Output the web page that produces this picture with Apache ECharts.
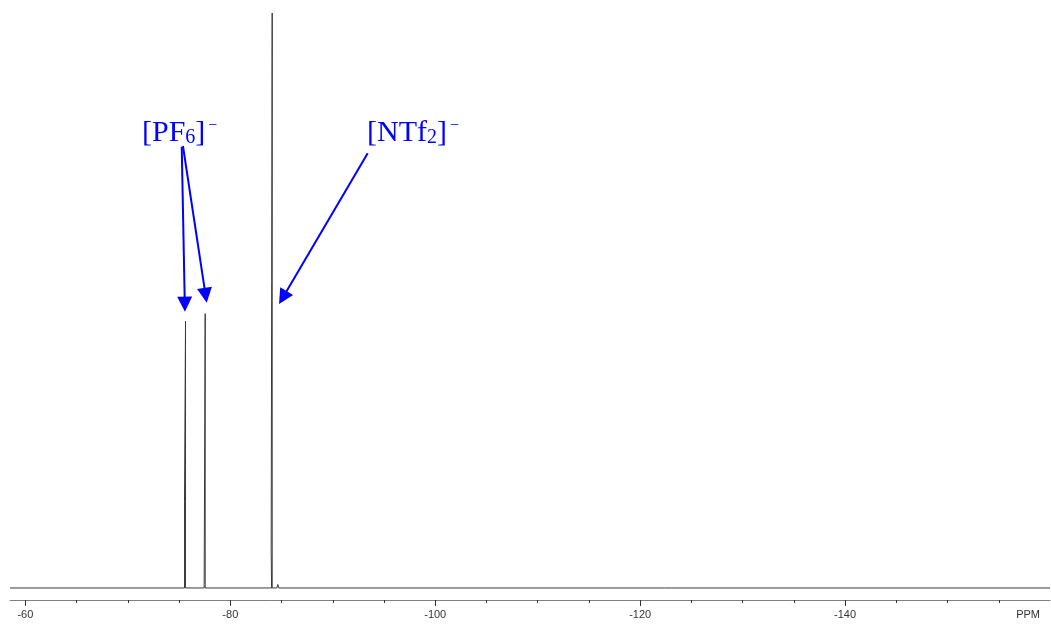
<!DOCTYPE html>
<html>
<head>
<meta charset="utf-8">
<script src="https://cdn.jsdelivr.net/npm/echarts@6/dist/echarts.min.js"></script>
<style>html,body{margin:0;padding:0;background:#fff}#c{width:1051px;height:627px}</style>
</head>
<body>
<div id="c"></div>
<script>
// Chemical shift range (ppm), axis runs right-to-left
const axisMin = -160;
const axisMax = -58.5;
const tickInterval = 20;
const minorStep = 5;
const majorTicks = [-140, -120, -100, -80, -60];

// Peaks: position (ppm), height (relative intensity), height of broad base part
const peakPpm      = [-75.63, -77.55, -84.09];
const peakHeight   = [46.4,   47.7,   100];
const peakBase     = [15.1,   0.6,    6.6];

// tiny satellite bumps near the baseline
const bumpPpm    = [-83.93, -84.64];
const bumpHeight = [0.3,    0.6];

// Annotation labels and arrows (data coordinates: ppm, intensity)
const labelTexts = ['{m|[PF}{s|6}{m|]}{p|−}', '{m|[NTf}{s|2}{m|]}{p|−}'];
const labelPos   = [[-71.38, 79.1], [-93.34, 79.1]];
const arrowFrom  = [[-75.26, 76.75], [-75.38, 76.87], [-93.41, 75.6]];
const arrowTo    = [[-75.56, 49.36], [-77.59, 50.9],  [-85.13, 50.5]];

// minor tick positions (every 5 ppm, not on major ticks)
const minorTicks = [];
for (let v = axisMin + minorStep; v <= axisMax; v += minorStep) {
  if (v % tickInterval !== 0) minorTicks.push(v);
}

// build spectrum trace
const marks = [];
peakPpm.forEach((c, i) => marks.push({c, h: peakHeight[i], b: peakBase[i]}));
bumpPpm.forEach((c, i) => marks.push({c, h: bumpHeight[i], b: 0}));
marks.sort((a, b) => b.c - a.c);
const d = 0.1;
const spectrum = [[axisMax, 0]];
marks.forEach(m => {
  if (m.b > 0) {
    spectrum.push([m.c + d, 0], [m.c + d, m.b], [m.c, m.h], [m.c, 0]);
  } else {
    spectrum.push([m.c + d, 0], [m.c, m.h], [m.c - d, 0]);
  }
});
spectrum.push([axisMin, 0]);

const chart = echarts.init(document.getElementById('c'), null, {renderer: 'canvas'});
const blue = '#0000ff';
const serif = 'Liberation Serif, Times New Roman, serif';
const xBase = {
  type: 'value',
  position: 'bottom',
  inverse: true,
  min: axisMin,
  max: axisMax,
  interval: tickInterval,
  splitLine: {show: false}
};
chart.setOption({
  animation: false,
  backgroundColor: '#fff',
  grid: {left: 10, right: 1, top: 13, bottom: 27, containLabel: false},
  xAxis: [
    Object.assign({}, xBase, {
      axisLine: {show: true, onZero: false, lineStyle: {color: '#808080', width: 1}},
      axisTick: {show: true, length: 6, customValues: majorTicks, lineStyle: {color: '#333'}},
      axisLabel: {
        show: true, margin: 9, fontSize: 11, color: '#333',
        fontFamily: 'Liberation Sans, Arial, sans-serif',
        showMaxLabel: false,
        alignMinLabel: 'right',
        formatter: v => (v === axisMin ? '{u|PPM}' : String(v)),
        rich: {u: {fontSize: 11, color: '#333', fontFamily: 'Liberation Sans, Arial, sans-serif', padding: [0, 10, 0, 0]}}
      }
    }),
    Object.assign({}, xBase, {
      axisLine: {show: false, onZero: false},
      axisTick: {show: true, length: 3, customValues: minorTicks, lineStyle: {color: '#333'}},
      axisLabel: {show: false}
    })
  ],
  yAxis: {type: 'value', show: false, min: -2.09, max: 100},
  series: [{
    type: 'line',
    data: spectrum,
    showSymbol: false,
    symbol: 'none',
    clip: true,
    lineStyle: {color: '#3a3a3a', width: 1},
    silent: true,
    markLine: {
      silent: true,
      animation: false,
      symbol: ['none', 'triangle'],
      symbolSize: 15,
      label: {show: false},
      itemStyle: {color: blue},
      lineStyle: {color: blue, width: 2, type: 'solid'},
      emphasis: {disabled: true},
      data: arrowFrom.map((f, i) => [{coord: f}, {coord: arrowTo[i]}])
    },
    markPoint: {
      silent: true,
      animation: false,
      symbol: 'rect',
      symbolSize: 0,
      itemStyle: {color: 'transparent'},
      label: {
        show: true,
        position: 'right',
        distance: 0,
        formatter: p => p.name,
        rich: {
          m: {fontFamily: serif, fontSize: 30, color: blue},
          s: {fontFamily: serif, fontSize: 20, color: blue, verticalAlign: 'bottom'},
          p: {fontFamily: serif, fontSize: 16, color: blue, verticalAlign: 'top', lineHeight: 4, padding: [0, 0, 0, 3]}
        }
      },
      data: labelTexts.map((t, i) => ({name: t, coord: labelPos[i]}))
    }
  }]
});
</script>
</body>
</html>
